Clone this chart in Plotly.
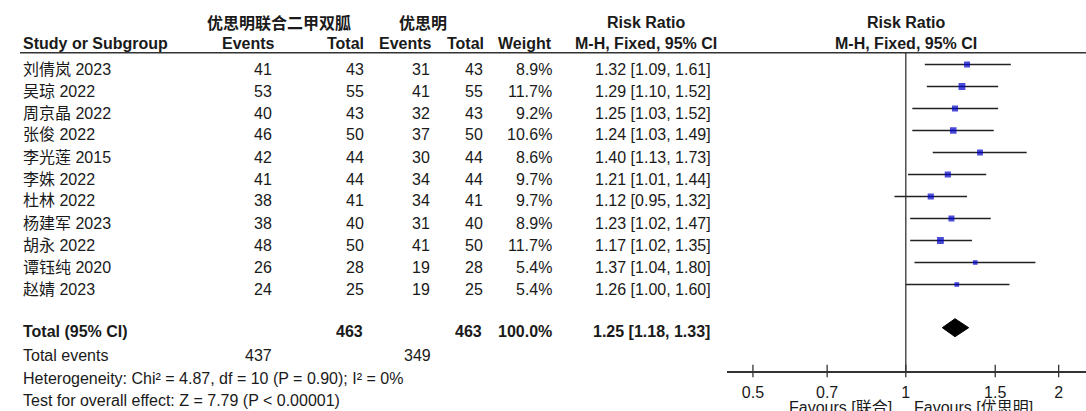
import math
import plotly.graph_objects as go

# ---------------- data ----------------
studies = ["刘倩岚 2023", "吴琼 2022", "周京晶 2022", "张俊 2022", "李光莲 2015", "李姝 2022",
           "杜林 2022", "杨建军 2023", "胡永 2022", "谭钰纯 2020", "赵婧 2023"]
exp_events = [41, 53, 40, 46, 42, 41, 38, 38, 48, 26, 24]
exp_total = [43, 55, 43, 50, 44, 44, 41, 40, 50, 28, 25]
ctl_events = [31, 41, 32, 37, 30, 34, 34, 31, 41, 19, 19]
ctl_total = [43, 55, 43, 50, 44, 44, 41, 40, 50, 28, 25]
weights = [8.9, 11.7, 9.2, 10.6, 8.6, 9.7, 9.7, 8.9, 11.7, 5.4, 5.4]
rr = [1.32, 1.29, 1.25, 1.24, 1.40, 1.21, 1.12, 1.23, 1.17, 1.37, 1.26]
rr_lo = [1.09, 1.10, 1.03, 1.03, 1.13, 1.01, 0.95, 1.02, 1.02, 1.04, 1.00]
rr_hi = [1.61, 1.52, 1.52, 1.49, 1.73, 1.44, 1.32, 1.47, 1.35, 1.80, 1.60]

total_exp = 463
total_ctl = 463
total_weight = "100.0%"
total_rr, total_lo, total_hi = 1.25, 1.18, 1.33
total_events_exp = 437
total_events_ctl = 349
heterogeneity = "Heterogeneity: Chi² = 4.87, df = 10 (P = 0.90); I² = 0%"
overall = "Test for overall effect: Z = 7.79 (P < 0.00001)"

tick_vals = [0.5, 0.7, 1, 1.5, 2]
tick_text = ["0.5", "0.7", "1", "1.5", "2"]

# ---------------- layout geometry (pixels) ----------------
W, H = 1086, 411
FONT = "Liberation Sans, Arial, Helvetica, Noto Sans CJK SC, sans-serif"
CJK_BOLD = "Noto Sans CJK SC, sans-serif"
FS = 16
TXT = "#1a1a1a"

row0, dy = 69, 22
row_y = [row0 + dy * i for i in range(len(studies))]
total_y = 331
mark_off = -4.5

axis_y = 371
header_line_y = 52.7
one_px = 905.8
px_per_dec = 507.8
ax_left, ax_right = 727, 1086


def px2log(p):
    return (p - one_px) / px_per_dec


def fx(p):
    return p / W


def fy(p):
    return 1 - p / H


fig = go.Figure()
annotations = []


def txt(s, x, y, anchor="left", bold=False, family=FONT, size=FS, color=TXT):
    annotations.append(dict(
        text=("<b>%s</b>" % s) if bold else s, x=fx(x), y=fy(y), xref="paper", yref="paper",
        xanchor=anchor, yanchor="middle", showarrow=False, borderpad=0,
        font=dict(family=family, size=size, color=color)))


# headers
txt("优思明联合二甲双胍", 279, 22, "center", True, CJK_BOLD)
txt("优思明", 423, 22, "center", True, CJK_BOLD)
txt("Risk Ratio", 646, 22, "center", True)
txt("Risk Ratio", 906, 22, "center", True)
txt("Study or Subgroup", 22, 44, "left", True)
txt("Events", 276, 44, "right", True)
txt("Total", 365, 44, "right", True)
txt("Events", 433, 44, "right", True)
txt("Total", 485, 44, "right", True)
txt("Weight", 553, 44, "right", True)
txt("M-H, Fixed, 95% CI", 646, 44, "center", True)
txt("M-H, Fixed, 95% CI", 906, 44, "center", True)

# study rows
for i, s in enumerate(studies):
    y = row_y[i]
    txt(s, 22, y, "left")
    txt(str(exp_events[i]), 273, y, "right")
    txt(str(exp_total[i]), 365, y, "right")
    txt(str(ctl_events[i]), 431, y, "right")
    txt(str(ctl_total[i]), 484, y, "right")
    txt("%.1f%%" % weights[i], 553, y, "right")
    txt("%.2f [%.2f, %.2f]" % (rr[i], rr_lo[i], rr_hi[i]), 653, y, "center")

# totals
txt("Total (95% CI)", 22, total_y, "left", True)
txt(str(total_exp), 364, total_y, "right", True)
txt(str(total_ctl), 483, total_y, "right", True)
txt(total_weight, 553, total_y, "right", True)
txt("%.2f [%.2f, %.2f]" % (total_rr, total_lo, total_hi), 651, total_y, "center", True)
txt("Total events", 22, 355, "left")
txt(str(total_events_exp), 273, 355, "right")
txt(str(total_events_ctl), 432, 355, "right")
txt(heterogeneity, 22, 378, "left")
txt(overall, 22, 400, "left")

# favours labels
txt("Favours [联合]", 893, 407, "right")
txt("Favours [优思明]", 913, 407, "left")

# ---------------- forest marks ----------------
line_col = "#222222"
for i in range(len(studies)):
    y = row_y[i] + mark_off
    fig.add_trace(go.Scatter(x=[rr_lo[i], rr_hi[i]], y=[y, y], mode="lines",
                             line=dict(color=line_col, width=1.4), hoverinfo="skip",
                             showlegend=False))
fig.add_trace(go.Scatter(
    x=rr, y=[y + mark_off for y in row_y], mode="markers",
    marker=dict(symbol="square", color="#0000cc", size=[2.0 * math.sqrt(w) for w in weights],
                line=dict(width=0)),
    showlegend=False, hoverinfo="skip"))

# diamond
dc = total_y - 3.3
fig.add_trace(go.Scatter(
    x=[total_lo, total_rr, total_hi, total_rr, total_lo],
    y=[dc, dc - 9, dc, dc + 9, dc], mode="lines", fill="toself",
    fillcolor="black", line=dict(color="black", width=1), showlegend=False, hoverinfo="skip"))

# null line
fig.add_trace(go.Scatter(x=[1, 1], y=[header_line_y, axis_y], mode="lines",
                         line=dict(color="#333333", width=1.3), showlegend=False,
                         hoverinfo="skip", cliponaxis=False))

# tick marks crossing the axis
fig.add_trace(go.Scatter(x=tick_vals, y=[axis_y] * len(tick_vals), mode="markers",
                         marker=dict(symbol="line-ns", size=9,
                                     line=dict(color="#333333", width=1.3)),
                         showlegend=False, hoverinfo="skip", cliponaxis=False))

# header rule
shapes = [dict(type="line", xref="paper", yref="paper", x0=fx(20), x1=1,
               y0=fy(header_line_y), y1=fy(header_line_y),
               line=dict(color="#333333", width=1.5))]

fig.update_layout(
    width=W, height=H, margin=dict(l=0, r=0, t=0, b=0),
    paper_bgcolor="white", plot_bgcolor="white",
    annotations=annotations, shapes=shapes,
    xaxis=dict(type="log", domain=[fx(ax_left), 1],
               range=[px2log(ax_left), px2log(ax_right)],
               showline=True, linecolor="#333333", linewidth=1.5,
               tickvals=tick_vals, ticktext=tick_text, ticks="",
               ticklabelstandoff=6,
               tickfont=dict(family=FONT, size=FS, color=TXT),
               showgrid=False, zeroline=False, fixedrange=True),
    yaxis=dict(domain=[fy(axis_y), fy(header_line_y)], range=[axis_y, header_line_y],
               visible=False, showgrid=False, zeroline=False, fixedrange=True),
)

fig.write_html(
    "out.html",
    config={"displayModeBar": False},
    post_script="document.body.style.margin='0';document.body.style.overflow='hidden';",
)
